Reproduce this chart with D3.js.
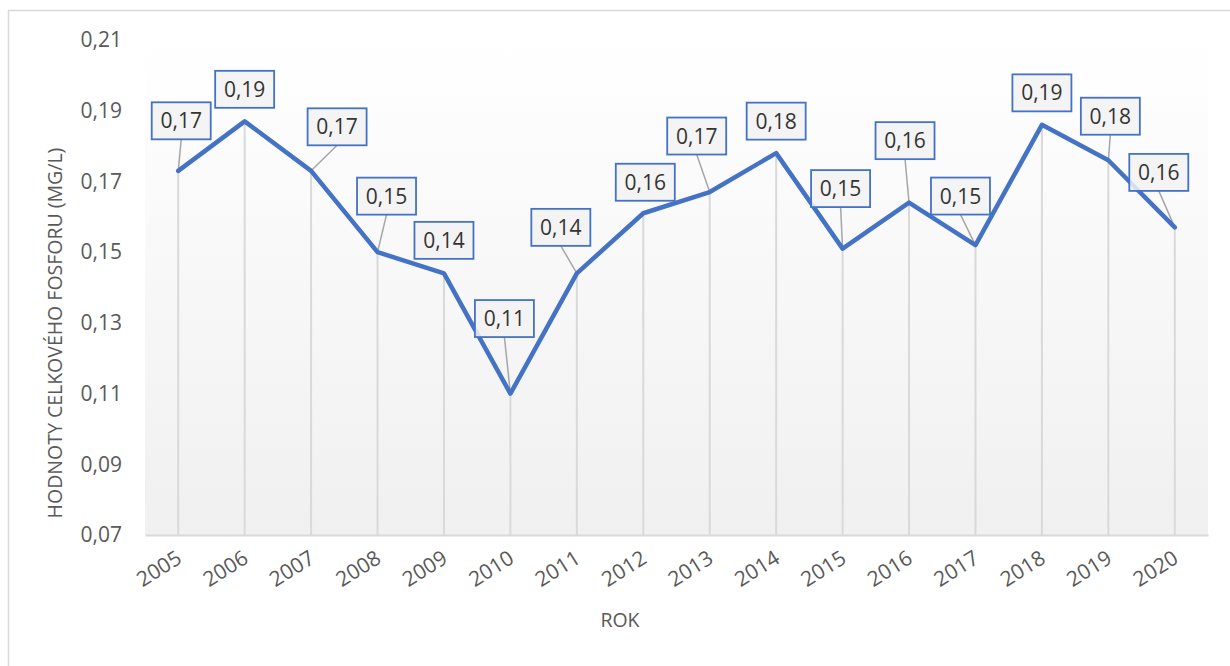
<!DOCTYPE html>
<html>
<head>
<meta charset="utf-8">
<script src="https://cdn.jsdelivr.net/npm/d3@7/dist/d3.min.js"></script>
<style>
  body { margin: 0; background: #fff; }
  text { font-family: 'Open Sans', sans-serif; }
</style>
</head>
<body>
<svg id="chart"></svg>
<script>
const width = 1230
const height = 666

const years = ['2005', '2006', '2007', '2008', '2009', '2010', '2011', '2012',
  '2013', '2014', '2015', '2016', '2017', '2018', '2019', '2020']
const values = [0.173, 0.187, 0.173, 0.150, 0.144, 0.110, 0.144, 0.161,
  0.167, 0.178, 0.151, 0.164, 0.152, 0.186, 0.176, 0.157]
const yTicks = [0.07, 0.09, 0.11, 0.13, 0.15, 0.17, 0.19, 0.21]

// where excel moved each data label (offset of box center from the point)
const labelDx = [3, 0, 26, 9, 0, -6, -16, 2, -13, 0, -2, -4, -15, 0, 2, -16]
const labelDy = [-50, -32, -44, -56, -33, -75, -46, -31, -56, -32, -60, -62, -49, -32, -44, -55]

const plot = { left: 145, right: 1208, top: 40, bottom: 535 }
const fmt = v => d3.format('.2f')(v).replace('.', ',')

const svg = d3.select('#chart').attr('width', width).attr('height', height)

// chart border (cut off on the right and bottom like the screenshot)
svg.append('path')
  .attr('d', `M8.5,${height} V10.5 H${width}`)
  .attr('fill', 'none')
  .attr('stroke', '#d9d9d9')
  .attr('stroke-width', 1.5)

const grad = svg.append('defs').append('linearGradient')
  .attr('id', 'bg').attr('x1', 0).attr('y1', 0).attr('x2', 0).attr('y2', 1)
grad.append('stop').attr('offset', '0%').attr('stop-color', '#ffffff')
grad.append('stop').attr('offset', '100%').attr('stop-color', '#f0f0f0')

svg.append('rect')
  .attr('x', plot.left).attr('y', plot.top - 2)
  .attr('width', plot.right - plot.left).attr('height', plot.bottom - plot.top + 2)
  .attr('fill', 'url(#bg)')

const x = d3.scaleBand().domain(years).range([plot.left, plot.right])
const y = d3.scaleLinear().domain([0.07, 0.21]).range([plot.bottom, plot.top])
const cx = d => x(d) + x.bandwidth() / 2

const data = years.map((yr, i) => ({ year: yr, value: values[i], dx: labelDx[i], dy: labelDy[i] }))

// drop lines
svg.append('g').selectAll('line')
  .data(data).enter().append('line')
  .attr('x1', d => cx(d.year)).attr('x2', d => cx(d.year))
  .attr('y1', d => y(d.value)).attr('y2', plot.bottom)
  .attr('stroke', '#d9d9d9').attr('stroke-width', 2)

// x axis
const xAxis = svg.append('g')
  .attr('transform', `translate(0,${plot.bottom})`)
  .call(d3.axisBottom(x).tickSize(0).tickPadding(0))
xAxis.select('.domain').attr('stroke', '#d9d9d9').attr('stroke-width', 2)
xAxis.selectAll('.tick text')
  .attr('font-size', 21)
  .attr('fill', '#595959')
  .attr('text-anchor', 'end')
  .attr('dy', 0)
  .attr('transform', 'translate(5,27) rotate(-32)')

// y axis labels only
const yAxis = svg.append('g')
  .attr('transform', `translate(${plot.left},0)`)
  .call(d3.axisLeft(y).tickValues(yTicks).tickFormat(fmt).tickSize(0).tickPadding(23))
yAxis.select('.domain').remove()
yAxis.selectAll('.tick text').attr('font-size', 21).attr('fill', '#595959')

// axis titles
svg.append('text')
  .attr('transform', 'translate(62,333) rotate(-90)')
  .attr('text-anchor', 'middle')
  .attr('font-size', 19.5)
  .attr('fill', '#595959')
  .text('HODNOTY CELKOVÉHO FOSFORU (MG/L)')

svg.append('text')
  .attr('x', 620).attr('y', 627)
  .attr('text-anchor', 'middle')
  .attr('font-size', 19.5)
  .attr('fill', '#595959')
  .text('ROK')

const boxW = 59
const boxH = 37

// leader lines for labels moved away from their points
svg.append('g').selectAll('line')
  .data(data.filter(d => -d.dy - boxH / 2 > 18)).enter().append('line')
  .attr('x1', d => cx(d.year)).attr('y1', d => y(d.value))
  .attr('x2', d => cx(d.year) + d.dx).attr('y2', d => y(d.value) + d.dy + boxH / 2)
  .attr('stroke', '#a6a6a6').attr('stroke-width', 1.5)

// series line
const line = d3.line().x(d => cx(d.year)).y(d => y(d.value))
svg.append('path')
  .datum(data)
  .attr('d', line)
  .attr('fill', 'none')
  .attr('stroke', '#4472c4')
  .attr('stroke-width', 4.5)
  .attr('stroke-linejoin', 'round')
  .attr('stroke-linecap', 'round')

// data labels
const labels = svg.append('g').selectAll('g')
  .data(data).enter().append('g')
  .attr('transform', d => `translate(${cx(d.year) + d.dx},${y(d.value) + d.dy})`)

labels.append('rect')
  .attr('x', -boxW / 2).attr('y', -boxH / 2)
  .attr('width', boxW).attr('height', boxH)
  .attr('fill', '#f2f2f2').attr('fill-opacity', 0.85)
  .attr('stroke', '#4472c4').attr('stroke-width', 1.8)

labels.append('text')
  .attr('text-anchor', 'middle')
  .attr('dy', '0.36em')
  .attr('font-size', 21)
  .attr('fill', '#333333')
  .text(d => fmt(d.value))
</script>
</body>
</html>
